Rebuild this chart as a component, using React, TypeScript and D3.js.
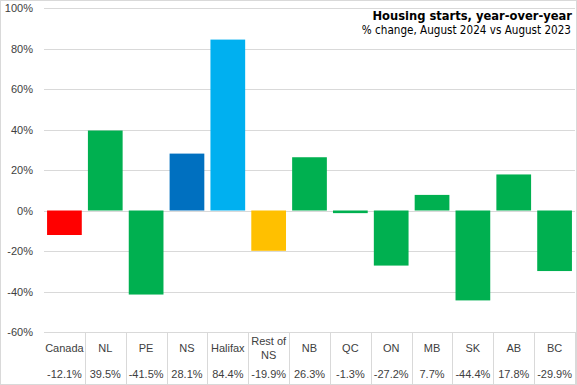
import React from 'react';
import * as d3 from 'd3';

const regions = ['Canada', 'NL', 'PE', 'NS', 'Halifax', 'Rest of NS', 'NB', 'QC', 'ON', 'MB', 'SK', 'AB', 'BC'];
const changes = [-12.1, 39.5, -41.5, 28.1, 84.4, -19.9, 26.3, -1.3, -27.2, 7.7, -44.4, 17.8, -29.9];
const barColors = ['#FF0000', '#00B050', '#00B050', '#0070C0', '#00B0F0', '#FFC000', '#00B050', '#00B050', '#00B050', '#00B050', '#00B050', '#00B050', '#00B050'];
const yTicks = [100, 80, 60, 40, 20, 0, -20, -40, -60];

const W = 577;
const H = 385;
const font = "'Liberation Sans', Arial, sans-serif";
const narrow = "'Liberation Sans Narrow', 'DejaVu Sans Condensed', sans-serif";

export default function App() {
  const left = 44, right = 575, top = 8, bottom = 332;

  const x = d3.scaleBand<string>()
    .domain(regions)
    .range([left, right])
    .paddingInner(0.15)
    .paddingOuter(0.075);
  const y = d3.scaleLinear().domain([-60, 100]).range([bottom, top]);
  const step = x.step();

  return (
    <div style={{ position: 'absolute', left: 0, top: 0 }}>
      <svg width={W} height={H} style={{ display: 'block', background: '#fff' }}>
        <rect x={0.5} y={0.5} width={W - 1} height={H - 1} fill="#fff" stroke="#D9D9D9" />

        {/* gridlines + y labels */}
        {yTicks.map(t => (
          <g key={t}>
            <line x1={left} x2={right} y1={Math.round(y(t)) + 0.5} y2={Math.round(y(t)) + 0.5} stroke="#D9D9D9" />
            <text x={33} y={y(t) + 4} textAnchor="end" fontFamily={font} fontSize={11} fill="#404040">{t}%</text>
          </g>
        ))}

        {/* bars */}
        {regions.map((r, i) => (
          <rect key={r}
            x={x(r)}
            y={y(Math.max(0, changes[i]))}
            width={x.bandwidth()}
            height={Math.abs(y(changes[i]) - y(0))}
            fill={barColors[i]} />
        ))}

        {/* data table */}
        {regions.map((r, i) => {
          const bx = left + step * (i + 1);
          return <line key={'v' + r} x1={Math.round(bx) + 0.5} x2={Math.round(bx) + 0.5} y1={bottom} y2={H} stroke="#D9D9D9" />;
        })}
        {regions.map((r, i) => {
          const cx = left + step * (i + 0.5);
          const parts = r === 'Rest of NS' ? ['Rest of', 'NS'] : [r];
          return (
            <g key={'t' + r} fontFamily={font} fontSize={11} fill="#404040" textAnchor="middle">
              {parts.length === 1
                ? <text x={cx} y={352}>{r}</text>
                : parts.map((p, j) => <text key={p} x={cx} y={345 + j * 14}>{p}</text>)}
              <text x={cx} y={378}>{changes[i].toFixed(1)}%</text>
            </g>
          );
        })}

        {/* title */}
        <text x={572} y={20} textAnchor="end" fontFamily={narrow} fontWeight="bold" fontSize={12.8} fill="#000">Housing starts, year-over-year</text>
        <text x={571} y={34} textAnchor="end" fontFamily={narrow} fontSize={11.6} fill="#000">% change, August 2024 vs August 2023</text>
      </svg>
    </div>
  );
}
